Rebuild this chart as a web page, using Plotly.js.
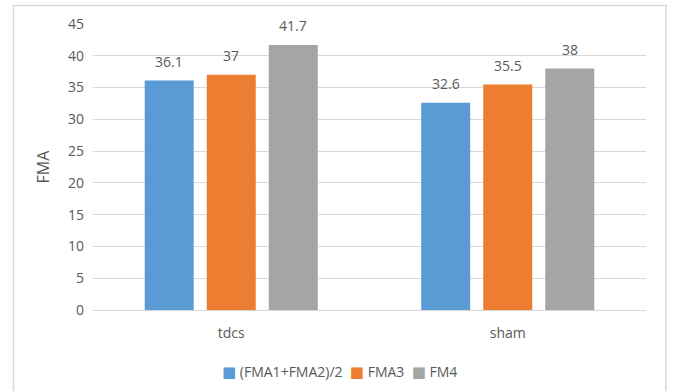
<!DOCTYPE html>
<html>
<head>
<meta charset="utf-8">
<script src="https://cdn.plot.ly/plotly-3.0.1.min.js"></script>
<style>html,body{margin:0;padding:0;background:#fff;}#chart{width:673px;height:391px;}</style>
</head>
<body>
<div id="chart"></div>
<script>
var categories = ["tdcs", "sham"];
var seriesNames = ["(FMA1+FMA2)/2", "FMA3", "FM4"];
var fmaBaseline = [36.1, 32.6];
var fma3 = [37, 35.5];
var fm4 = [41.7, 38];
var seriesColors = ["#5b9bd5", "#ed7d31", "#a5a5a5"];
var yTicks = [0, 5, 10, 15, 20, 25, 30, 35, 40, 45];

var values = [fmaBaseline, fma3, fm4];
var txtColor = "#595959";
var fontFam = "'Open Sans', 'DejaVu Sans', sans-serif";
var bargap = 0.327;

var traces = values.map(function (v, i) {
  return {
    type: "bar",
    name: seriesNames[i],
    x: categories,
    y: v,
    marker: { color: seriesColors[i] },
    textposition: "none",
    hoverinfo: "none",
    showlegend: false
  };
});

// Data labels placed on each bar through the axis scales
var slot = (1 - bargap) / values.length;
var annotations = [];
values.forEach(function (v, i) {
  v.forEach(function (val, j) {
    annotations.push({
      xref: "x",
      yref: "y",
      x: j + (i - (values.length - 1) / 2) * slot,
      y: val,
      yshift: 19,
      xanchor: "center",
      yanchor: "middle",
      showarrow: false,
      text: String(val),
      font: { size: 14, color: txtColor, family: fontFam }
    });
  });
});

// Compact legend, built from the series names and colours
var legendText = seriesNames.map(function (n, i) {
  return '<span style="color:' + seriesColors[i] + ';font-size:15px">\u25A0</span>\u00a0' + n;
}).join('\u00a0 ');
annotations.push({
  xref: "paper",
  yref: "paper",
  x: 0.4458,
  y: -0.213,
  xanchor: "center",
  yanchor: "middle",
  showarrow: false,
  text: legendText,
  font: { size: 14, color: txtColor, family: fontFam }
});

var layout = {
  width: 673,
  height: 391,
  margin: { l: 93, r: 27, t: 24, b: 81, autoexpand: false },
  paper_bgcolor: "#ffffff",
  plot_bgcolor: "#ffffff",
  font: { family: fontFam, color: txtColor, size: 14 },
  barmode: "group",
  bargap: bargap,
  bargroupgap: 0.21,
  showlegend: false,
  xaxis: {
    type: "category",
    showgrid: false,
    showline: true,
    linecolor: "#d9d9d9",
    linewidth: 1,
    ticks: "",
    ticklabelstandoff: 10,
    tickfont: { size: 14, color: txtColor },
    fixedrange: true
  },
  yaxis: {
    range: [0, 45],
    tickvals: yTicks,
    ticktext: yTicks.map(String),
    showgrid: true,
    gridcolor: "#d9d9d9",
    gridwidth: 1,
    zeroline: true,
    zerolinecolor: "#d9d9d9",
    showline: false,
    ticks: "",
    ticklabelstandoff: 8,
    tickfont: { size: 14, color: txtColor },
    title: { text: "FMA", font: { size: 16, color: txtColor }, standoff: 14 },
    fixedrange: true
  },
  annotations: annotations,
  shapes: [{
    type: "rect",
    xref: "paper",
    yref: "paper",
    x0: -0.1438,
    x1: 1.0362,
    y0: -0.5,
    y1: 1.0647,
    line: { color: "#d9d9d9", width: 1.5 },
    fillcolor: "rgba(0,0,0,0)",
    layer: "below"
  }]
};

Plotly.newPlot("chart", traces, layout, { displayModeBar: false, staticPlot: true });
</script>
</body>
</html>
